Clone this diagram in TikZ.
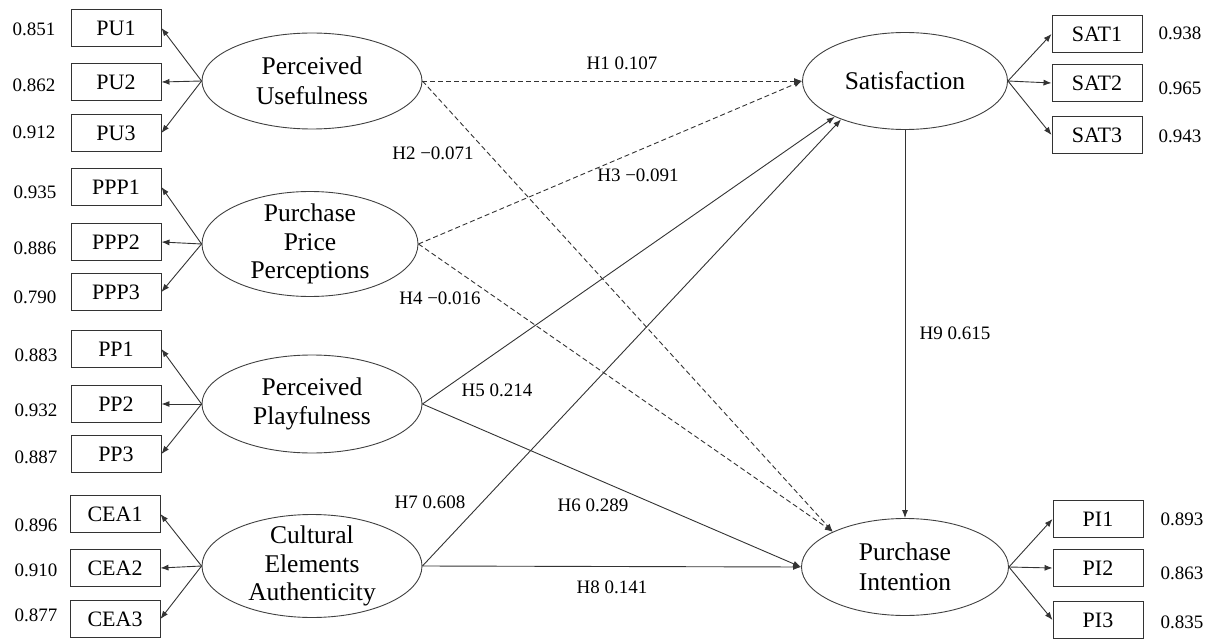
\documentclass[tikz,border=0pt]{standalone}
\usepackage{fontspec}
\setmainfont{Liberation Serif}
\usetikzlibrary{shapes.geometric,arrows.meta}
\begin{document}
\begin{tikzpicture}[x=1pt,y=-1pt,
  lat/.style={draw=black!75, line width=0.9pt, ellipse, inner sep=0pt},
  lbl/.style={font=\fontsize{25.5}{29.5}\selectfont, align=center, inner sep=0pt},
  ind/.style={draw=black!80, line width=0.9pt, minimum width=90pt, minimum height=37pt, inner sep=0pt, font=\fontsize{22}{26}\selectfont},
  val/.style={font=\fontsize{19}{22}\selectfont, inner sep=0pt},
  hyp/.style={font=\fontsize{19}{22}\selectfont, inner sep=0pt},
  arr/.style={draw=black!80, line width=0.9pt, -{Latex[length=8pt,width=6pt]}},
  dsh/.style={arr, dash pattern=on 5pt off 3pt}]
\useasboundingbox (0,0) rectangle (1210,639);

% latent constructs
\node[lat, minimum width=220pt, minimum height=96pt] (PU) at (312,81) {};
\node[lbl] (PUt) at (PU.center) {Perceived\\Usefulness};
\node[lat, minimum width=216pt, minimum height=105pt] (PPP) at (310,244) {};
\node[lbl, font=\fontsize{25.5}{28.5}\selectfont] (PPPt) at (PPP.center) {Purchase\\Price\\Perceptions};
\node[lat, minimum width=220pt, minimum height=98pt] (PP) at (312,404) {};
\node[lbl] (PPt) at (PP.center) {Perceived\\Playfulness};
\node[lat, minimum width=220pt, minimum height=103pt] (CEA) at (312,566) {};
\node[lbl, font=\fontsize{25.5}{28.5}\selectfont] (CEAt) at (CEA.center) {Cultural\\Elements\\Authenticity};
\node[lat, minimum width=205pt, minimum height=97pt] (SAT) at (905,81) {};
\node[lbl] (SATt) at (SAT.center) {Satisfaction};
\node[lat, minimum width=207pt, minimum height=97pt] (PI) at (905,567) {};
\node[lbl] (PIt) at (PI.center) {Purchase\\Intention};

% left indicators
\node[ind] (PU1) at (116,28) {PU1};
\node[ind] (PU2) at (116,82) {PU2};
\node[ind] (PU3) at (116,133) {PU3};
\node[ind] (PPP1) at (116,187) {PPP1};
\node[ind] (PPP2) at (116,242) {PPP2};
\node[ind] (PPP3) at (116,292) {PPP3};
\node[ind] (PP1) at (116,349) {PP1};
\node[ind] (PP2) at (116,404) {PP2};
\node[ind] (PP3) at (116,454) {PP3};
\node[ind] (CEA1) at (115,514) {CEA1};
\node[ind] (CEA2) at (115,568) {CEA2};
\node[ind] (CEA3) at (115,619) {CEA3};

% right indicators
\node[ind] (SAT1) at (1097,34) {SAT1};
\node[ind] (SAT2) at (1097,83) {SAT2};
\node[ind] (SAT3) at (1097,135) {SAT3};
\node[ind] (PI1) at (1098,519) {PI1};
\node[ind] (PI2) at (1098,568) {PI2};
\node[ind] (PI3) at (1098,620) {PI3};

% loading values
\node[val] (vPU1) at (34,29) {0.851};
\node[val] (vPU2) at (34,85) {0.862};
\node[val] (vPU3) at (34,132) {0.912};
\node[val] (vPPP1) at (35,192) {0.935};
\node[val] (vPPP2) at (35,248) {0.886};
\node[val] (vPPP3) at (35,297) {0.790};
\node[val] (vPP1) at (36,355) {0.883};
\node[val] (vPP2) at (36,410) {0.932};
\node[val] (vPP3) at (36,457) {0.887};
\node[val] (vCEA1) at (36,525) {0.896};
\node[val] (vCEA2) at (36,570) {0.910};
\node[val] (vCEA3) at (36,615) {0.877};
\node[val] (vSAT1) at (1180,33) {0.938};
\node[val] (vSAT2) at (1180,88) {0.965};
\node[val] (vSAT3) at (1180,136) {0.943};
\node[val] (vPI1) at (1182,519) {0.893};
\node[val] (vPI2) at (1182,573) {0.863};
\node[val] (vPI3) at (1182,622) {0.835};

% loading arrows
\foreach \c/\i in {PU/PU1,PU/PU2,PU/PU3,PPP/PPP1,PPP/PPP2,PPP/PPP3,PP/PP1,PP/PP2,PP/PP3,CEA/CEA1,CEA/CEA2,CEA/CEA3}
  \draw[arr] (\c.west) -- (\i.east);
\foreach \c/\i in {SAT/SAT1,SAT/SAT2,SAT/SAT3,PI/PI1,PI/PI2,PI/PI3}
  \draw[arr] (\c.east) -- (\i.west);

% structural paths
\draw[dsh] (PU.east) -- (SAT.west);
\draw[dsh] (PU.east) -- (PI.154);
\draw[dsh] (PPP.east) -- (SAT.west);
\draw[dsh] (PPP.east) -- (PI.154);
\draw[arr] (PP.east) -- (SAT.207);
\draw[arr] (PP.east) -- (PI.west);
\draw[arr] (CEA.east) -- (SAT.211);
\draw[arr] (CEA.east) -- (PI.west);
\draw[arr] (SAT.south) -- (PI.north);

% hypothesis labels
\node[hyp] (h1) at (622,63) {H1 0.107};
\node[hyp] (h2) at (433,153) {H2 −0.071};
\node[hyp] (h3) at (638,175) {H3 −0.091};
\node[hyp] (h4) at (440,298) {H4 −0.016};
\node[hyp] (h5) at (497,390) {H5 0.214};
\node[hyp] (h6) at (593,505) {H6 0.289};
\node[hyp] (h7) at (430,502) {H7 0.608};
\node[hyp] (h8) at (612,587) {H8 0.141};
\node[hyp] (h9) at (955,333) {H9 0.615};
\end{tikzpicture}
\end{document}
